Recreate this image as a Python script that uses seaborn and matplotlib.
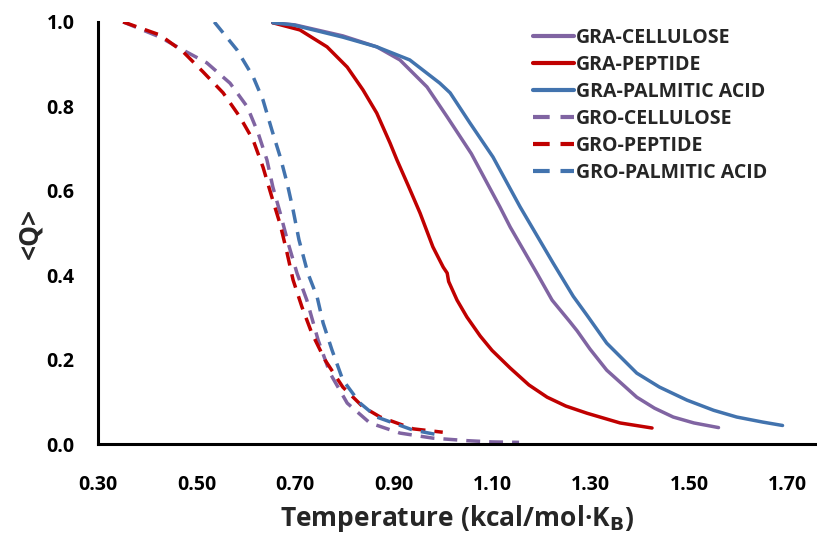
import pandas as pd
import matplotlib
matplotlib.use("Agg")
import matplotlib.pyplot as plt
import seaborn as sns

# GRA series (solid lines)
gra_cel_x = [0.655, 0.700, 0.797, 0.866, 0.913, 0.968, 1.009, 1.058, 1.116, 1.137, 1.191, 1.222, 1.258, 1.273,
             1.299, 1.333, 1.394, 1.430, 1.468, 1.510, 1.560]
gra_cel_y = [0.998, 0.993, 0.967, 0.941, 0.910, 0.846, 0.775, 0.688, 0.562, 0.514, 0.405, 0.341, 0.290, 0.268,
             0.225, 0.175, 0.111, 0.085, 0.064, 0.050, 0.039]

gra_pep_x = [0.655, 0.710, 0.765, 0.806, 0.838, 0.866, 0.893, 0.907, 0.930, 0.954, 0.980, 1.001, 1.009, 1.012,
             1.029, 1.049, 1.076, 1.100, 1.137, 1.175, 1.212, 1.250, 1.293, 1.360, 1.425]
gra_pep_y = [0.998, 0.981, 0.941, 0.893, 0.839, 0.784, 0.713, 0.673, 0.612, 0.547, 0.467, 0.419, 0.405, 0.385,
             0.341, 0.301, 0.256, 0.222, 0.180, 0.140, 0.111, 0.090, 0.073, 0.050, 0.038]

gra_pal_x = [0.655, 0.696, 0.797, 0.866, 0.933, 0.994, 1.015, 1.055, 1.102, 1.157, 1.224, 1.265, 1.293, 1.333,
             1.394, 1.440, 1.496, 1.550, 1.597, 1.650, 1.690]
gra_pal_y = [0.998, 0.993, 0.964, 0.941, 0.910, 0.855, 0.832, 0.761, 0.680, 0.562, 0.429, 0.350, 0.305, 0.239,
             0.168, 0.135, 0.104, 0.080, 0.064, 0.052, 0.044]

# GRO series (dashed lines)
gro_cel_x = [0.351, 0.426, 0.470, 0.521, 0.568, 0.603, 0.625, 0.643, 0.655, 0.670, 0.686, 0.704, 0.724, 0.747,
             0.771, 0.806, 0.852, 0.913, 0.980, 1.050, 1.100, 1.155]
gro_cel_y = [1.0, 0.964, 0.935, 0.903, 0.855, 0.799, 0.737, 0.673, 0.609, 0.547, 0.476, 0.405, 0.341, 0.246,
             0.168, 0.097, 0.050, 0.026, 0.014, 0.008, 0.005, 0.004]

gro_pep_x = [0.351, 0.426, 0.473, 0.513, 0.554, 0.588, 0.615, 0.635, 0.653, 0.670, 0.684, 0.696, 0.714, 0.734,
             0.761, 0.797, 0.838, 0.873, 0.940, 1.000]
gro_pep_y = [1.0, 0.969, 0.929, 0.882, 0.832, 0.775, 0.720, 0.656, 0.585, 0.520, 0.452, 0.389, 0.325, 0.263,
             0.199, 0.135, 0.088, 0.064, 0.036, 0.028]

gro_pal_x = [0.536, 0.582, 0.615, 0.635, 0.653, 0.670, 0.684, 0.696, 0.708, 0.726, 0.745, 0.757, 0.775, 0.797,
             0.832, 0.866, 0.940, 0.990]
gro_pal_y = [1.0, 0.934, 0.870, 0.815, 0.744, 0.680, 0.618, 0.555, 0.484, 0.405, 0.348, 0.287, 0.223, 0.152,
             0.097, 0.064, 0.033, 0.022]

x_ticks = [0.30, 0.50, 0.70, 0.90, 1.10, 1.30, 1.50, 1.70]
y_ticks = [0.0, 0.2, 0.4, 0.6, 0.8, 1.0]

purple = "#8064A2"
red = "#C00000"
blue = "#4273AE"

series = [
    ("GRA-CELLULOSE", gra_cel_x, gra_cel_y, purple, "-"),
    ("GRA-PEPTIDE", gra_pep_x, gra_pep_y, red, "-"),
    ("GRA-PALMITIC ACID", gra_pal_x, gra_pal_y, blue, "-"),
    ("GRO-CELLULOSE", gro_cel_x, gro_cel_y, purple, "--"),
    ("GRO-PEPTIDE", gro_pep_x, gro_pep_y, red, "--"),
    ("GRO-PALMITIC ACID", gro_pal_x, gro_pal_y, blue, "--"),
]

sns.set_style("white")
plt.rcParams['font.family'] = ['Open Sans', 'DejaVu Sans']

fig = plt.figure(figsize=(8.17, 5.35), dpi=100)
ax = fig.add_axes([0.12, 0.170, 0.88, 0.789])

for name, xs, ys, col, ls in series:
    df = pd.DataFrame({"T": xs, "Q": ys})
    sns.lineplot(data=df, x="T", y="Q", ax=ax, color=col, linewidth=2.5,
                 label=name, sort=False)
    if ls == "--":
        ax.lines[-1].set_dashes((4, 2.6))
    ax.lines[-1].set_solid_capstyle("round")
    ax.lines[-1].set_solid_joinstyle("round")

ax.set_xlim(0.30, 1.76)
ax.set_ylim(0.0, 1.0)
ax.set_xticks(x_ticks)
ax.set_xticklabels([f"{t:.2f}" for t in x_ticks])
ax.set_yticks(y_ticks)
ax.set_yticklabels([f"{t:.1f}" for t in y_ticks])

for s in ["top", "right"]:
    ax.spines[s].set_visible(False)
for s in ["left", "bottom"]:
    ax.spines[s].set_color("black")
    ax.spines[s].set_linewidth(2.2)

ax.tick_params(axis="both", direction="in", length=6, width=2.2, colors="black",
               labelsize=14)
ax.tick_params(axis="x", pad=22)
ax.tick_params(axis="y", pad=17)
for lab in ax.get_xticklabels() + ax.get_yticklabels():
    lab.set_fontweight("bold")

ax.set_xlabel("Temperature (kcal/mol·K$_\\mathbf{B}$)", fontsize=19, fontweight="bold",
              labelpad=6)
ax.set_ylabel("<Q>", fontsize=19, fontweight="bold", labelpad=2)

leg = ax.legend(loc="upper left", bbox_to_anchor=(0.605, 0.985), frameon=False,
                borderaxespad=0, borderpad=0,
                handlelength=2.1, handletextpad=0.1, labelspacing=0.36,
                prop={"size": 14, "weight": "bold"})
for h in leg.get_lines():
    h.set_linewidth(3)

fig.savefig("out.png", dpi=100)
